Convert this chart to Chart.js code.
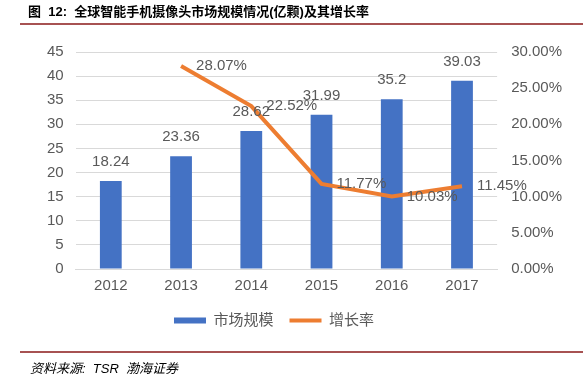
<!DOCTYPE html>
<html>
<head>
<meta charset="utf-8">
<script src="https://cdn.jsdelivr.net/npm/chart.js@4.4.1/dist/chart.umd.min.js"></script>
<style>
  html, body { margin: 0; padding: 0; background: #fff; }
  #wrap { width: 583px; height: 385px; position: relative; }
</style>
</head>
<body>
<div id="wrap"><canvas id="c" width="583" height="385"></canvas></div>
<script>
// data
const years = ['2012', '2013', '2014', '2015', '2016', '2017'];
const marketSize = [18.24, 23.36, 28.62, 31.99, 35.2, 39.03];       // 亿颗
const growthRate = [null, 28.07, 22.52, 11.77, 10.03, 11.45];       // %

const TITLE = '图  12:  全球智能手机摄像头市场规模情况(亿颗)及其增长率';
const SOURCE = '资料来源:  TSR  渤海证券';

const GREY = '#595959';
const GRID = '#D9D9D9';
const BLUE = '#4472C4';
const ORANGE = '#ED7D31';
const FONT = "'Liberation Sans', 'Noto Sans CJK SC', sans-serif";

const LEGEND_PAD = 16;

Chart.defaults.font.family = FONT;
Chart.defaults.color = GREY;

// title, rules, source line and value labels
const decor = {
  id: 'decor',
  afterLayout(chart) {
    // nudge the legend to where the original sits (centred under x≈272, y≈320)
    const lg = chart.legend;
    const dx = 274 - (lg.left + lg.right) / 2;
    const dy = 313 - (lg.top + LEGEND_PAD);
    lg.left += dx; lg.right += dx;
    lg.top += dy; lg.bottom += dy;
  },
  afterDatasetsDraw(chart) {
    const ctx = chart.ctx;
    ctx.save();

    // value labels on bars
    ctx.font = '15px ' + FONT;
    ctx.fillStyle = GREY;
    ctx.textAlign = 'center';
    ctx.textBaseline = 'middle';
    chart.getDatasetMeta(0).data.forEach((bar, i) => {
      ctx.fillText(String(marketSize[i]), bar.x, bar.y - 19);
    });

    // growth labels right of the points
    ctx.textAlign = 'left';
    chart.getDatasetMeta(1).data.forEach((pt, i) => {
      if (growthRate[i] == null) return;
      ctx.fillText(growthRate[i].toFixed(2) + '%', pt.x + 15, pt.y);
    });
    ctx.restore();
  },
  afterDraw(chart) {
    const ctx = chart.ctx;
    ctx.save();
    ctx.fillStyle = '#000';
    ctx.textBaseline = 'middle';
    ctx.textAlign = 'left';
    ctx.font = "bold 13px 'Liberation Sans', 'Noto Sans CJK SC', sans-serif";
    ctx.fillText(TITLE, 28, 12);

    ctx.strokeStyle = '#8B1A1A';
    ctx.lineWidth = 1.5;
    ctx.beginPath();
    ctx.moveTo(20, 24); ctx.lineTo(583, 24);
    ctx.moveTo(20, 352); ctx.lineTo(583, 352);
    ctx.stroke();

    ctx.font = "italic 13px 'Liberation Sans', 'Noto Sans CJK SC', sans-serif";
    ctx.fillText(SOURCE, 30, 369);
    ctx.restore();
  }
};

new Chart(document.getElementById('c'), {
  data: {
    labels: years,
    datasets: [
      {
        type: 'bar',
        label: '市场规模',
        data: marketSize,
        backgroundColor: BLUE,
        borderWidth: 0,
        barPercentage: 0.62,
        categoryPercentage: 0.5,
        yAxisID: 'y',
        order: 2,
      },
      {
        type: 'line',
        label: '增长率',
        data: growthRate,
        borderColor: ORANGE,
        backgroundColor: ORANGE,
        borderWidth: 4,
        pointRadius: 0,
        tension: 0,
        yAxisID: 'y1',
        order: 1,
      },
    ],
  },
  options: {
    animation: false,
    responsive: false,
    layout: { padding: { top: 52, left: 35, right: 7, bottom: 41 } },
    scales: {
      x: {
        border: { display: true, color: GRID },
        grid: { display: false, drawTicks: false },
        ticks: { padding: 8, font: { size: 15 }, color: GREY },
      },
      y: {
        position: 'left',
        min: 0,
        max: 45,
        border: { display: false },
        grid: { color: GRID, drawTicks: false },
        ticks: { stepSize: 5, padding: 12, font: { size: 15 }, color: GREY },
      },
      y1: {
        position: 'right',
        min: 0,
        max: 30,
        border: { display: false },
        grid: { display: false, drawTicks: false },
        ticks: {
          stepSize: 5,
          padding: 14,
          font: { size: 15 },
          color: GREY,
          callback: v => v.toFixed(2) + '%',
        },
      },
    },
    plugins: {
      tooltip: { enabled: false },
      legend: {
        position: 'bottom',
        labels: {
          font: { size: 15 },
          color: GREY,
          usePointStyle: true,
          pointStyleWidth: 32,
          boxHeight: 6,
          padding: LEGEND_PAD,
          sort: (a, b) => a.datasetIndex - b.datasetIndex,
          generateLabels: chart =>
            Chart.defaults.plugins.legend.labels.generateLabels(chart).map(it =>
              Object.assign(it, it.datasetIndex === 0
                ? { pointStyle: 'rect', lineWidth: 0, fillStyle: BLUE }
                : { pointStyle: 'line', lineWidth: 4, strokeStyle: ORANGE })),
        },
      },
    },
  },
  plugins: [decor],
});
</script>
</body>
</html>
